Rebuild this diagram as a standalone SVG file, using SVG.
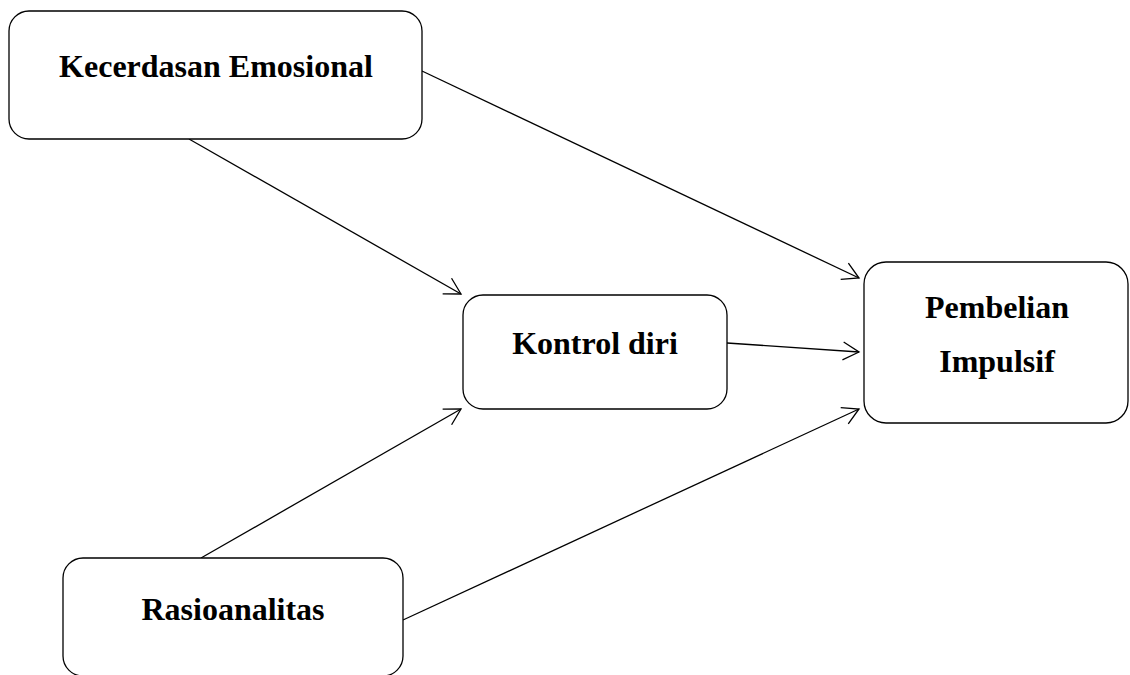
<svg xmlns="http://www.w3.org/2000/svg" width="1130" height="675" viewBox="0 0 1130 675">
<style>
.box{fill:#fff;stroke:#000;stroke-width:1.3}
.lbl{font-family:"Liberation Serif","Times New Roman",serif;font-weight:bold;font-size:32px;fill:#000;text-anchor:middle}
.con{stroke:#000;stroke-width:1.3;fill:none;marker-end:url(#arr)}
</style>
<defs>
<marker id="arr" markerUnits="userSpaceOnUse" viewBox="-18 -11 20 22" refX="0" refY="0" markerWidth="20" markerHeight="22" orient="auto" overflow="visible">
<path d="M-16,-9 L0,0 L-16,9" fill="none" stroke="#000" stroke-width="1.3"/>
</marker>
</defs>
<rect width="1130" height="675" fill="#fff"/>
<g id="connectors">
<line class="con" x1="189" y1="139" x2="461" y2="294"/>
<line class="con" x1="422" y1="71" x2="859" y2="278"/>
<line class="con" x1="727" y1="343" x2="859" y2="352"/>
<line class="con" x1="201" y1="558" x2="461" y2="409"/>
<line class="con" x1="403" y1="620" x2="859" y2="409"/>
</g>
<g id="kecerdasan">
<rect class="box" x="9" y="11" width="413" height="128" rx="20"/>
<text class="lbl" x="216" y="77">Kecerdasan Emosional</text>
</g>
<g id="kontrol">
<rect class="box" x="463" y="295" width="264" height="114" rx="20"/>
<text class="lbl" x="595" y="354">Kontrol diri</text>
</g>
<g id="pembelian">
<rect class="box" x="864" y="262" width="264" height="161" rx="22"/>
<text class="lbl" x="997" y="318">Pembelian</text>
<text class="lbl" x="997" y="372">Impulsif</text>
</g>
<g id="rasioanalitas">
<rect class="box" x="63" y="558" width="340" height="118" rx="20"/>
<text class="lbl" x="233" y="620">Rasioanalitas</text>
</g>
</svg>
